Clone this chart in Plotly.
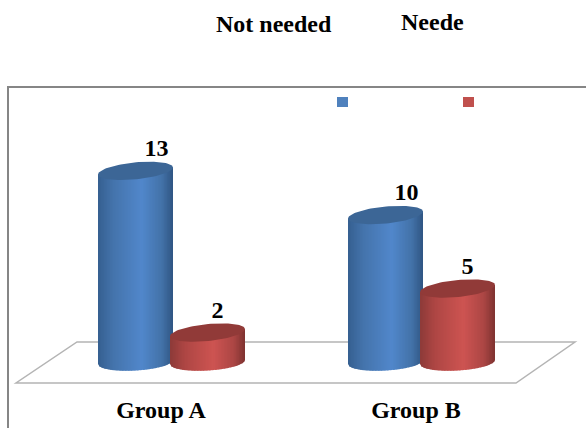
import numpy as np
import plotly.graph_objects as go

# Chart data
groups = ["Group A", "Group B"]
series_names = ["Not needed", "Neede"]
not_needed = [13, 10]
needed = [2, 5]

WIDTH, HEIGHT = 586, 428
PLOT_BOTTOM = 383            # pixel row of the x axis
BASE_ROW = 362               # pixel row of value 0
ROW_PER_UNIT = 14.7
GROUP_ZERO_COL = 171.5
COL_PER_GROUP = 250.0

SERIF = "Liberation Serif, Times New Roman, serif"

# Cylinder geometry, in axis units
half_w = 37.5 / COL_PER_GROUP
offset = 36.0 / COL_PER_GROUP
cap_b = 8.5 / ROW_PER_UNIT
cap_tilt = 3.5 / ROW_PER_UNIT

body_ramps = {
    "blue": [(0, "#355f90"), (0.2, "#4473ab"), (0.58, "#5187cb"), (0.85, "#4372a8"), (1, "#2f5582")],
    "red": [(0, "#8c3a38"), (0.2, "#ae4644"), (0.58, "#cd5451"), (0.85, "#ab4644"), (1, "#7e3230")],
}
cap_colors = {"blue": "#3c6696", "red": "#913a38"}


def ramp(stops, t):
    xs = [s[0] for s in stops]
    rgb = [[int(s[1][i:i + 2], 16) for s in stops] for i in (1, 3, 5)]
    return "rgb({:.0f},{:.0f},{:.0f})".format(*[np.interp(t, xs, c) for c in rgb])


def cylinder(cx, value, color):
    """Shaded strips for the side of a cylinder, then its tilted top cap."""
    traces = []
    n = 50
    edges = np.linspace(-1, 1, n + 1)
    for i in range(n):
        # Each strip runs slightly into the next so no seams show
        u = np.linspace(edges[i], min(edges[i + 1] + 0.02, 1), 4)
        low = -cap_b * np.sqrt(np.clip(1 - u ** 2, 0, 1)) + cap_tilt * u * 0.6
        top = value + cap_tilt * u
        xs = np.concatenate([cx + half_w * u, cx + half_w * u[::-1]])
        ys = np.concatenate([low, top[::-1]])
        traces.append(go.Scatter(
            x=xs, y=ys, mode="lines", fill="toself", line=dict(width=0),
            fillcolor=ramp(body_ramps[color], (i + 0.5) / n),
            hoverinfo="skip", showlegend=False))
    t = np.linspace(0, 2 * np.pi, 90)
    traces.append(go.Scatter(
        x=cx + half_w * np.cos(t),
        y=value + cap_b * np.sin(t) + cap_tilt * np.cos(t),
        mode="lines", fill="toself", line=dict(width=0),
        fillcolor=cap_colors[color], hoverinfo="skip", showlegend=False))
    return traces


fig = go.Figure()
positions = np.arange(len(groups), dtype=float)

# Each group draws its blue cylinder first so the red one sits in front
for pos, a, b in zip(positions, not_needed, needed):
    for tr in cylinder(pos - offset, a, "blue"):
        fig.add_trace(tr)
    for tr in cylinder(pos + offset, b, "red"):
        fig.add_trace(tr)

# Value labels sit above and to the right of each cylinder
label_dx = 21 / COL_PER_GROUP
label_dy = 21.0 / ROW_PER_UNIT
for vals, shift in ((not_needed, -offset), (needed, offset)):
    fig.add_trace(go.Scatter(
        x=positions + shift + (label_dx if shift < 0 else label_dx - 11 / COL_PER_GROUP),
        y=np.array(vals) + label_dy,
        mode="text", text=[str(v) for v in vals], textposition="middle center",
        textfont=dict(family=SERIF, size=24, color="#000000", weight="bold"),
        hoverinfo="skip", showlegend=False))


def px(col):
    return col / WIDTH


def py(row):
    return (PLOT_BOTTOM - row) / PLOT_BOTTOM


def path(points, close=False):
    d = " ".join(("M" if i == 0 else "L") + f" {px(c):.5f} {py(r):.5f}" for i, (c, r) in enumerate(points))
    return d + (" Z" if close else "")


shapes = [
    # Outer frame, open at the right and bottom
    dict(type="path", xref="paper", yref="paper", layer="below",
         path=path([(8, 428), (8, 87), (586, 87)]), line=dict(color="#868686", width=2)),
    # Floor of the 3D plot
    dict(type="path", xref="paper", yref="paper", layer="below",
         path=path([(16, 383), (516, 383), (575, 342), (77, 342)], close=True),
         line=dict(color="#b4b4b4", width=1.5), fillcolor="#ffffff"),
    # Legend swatches
    dict(type="rect", xref="paper", yref="paper", x0=px(337), x1=px(348), y0=py(107), y1=py(97),
         line=dict(width=0), fillcolor="#4f81bd"),
    dict(type="rect", xref="paper", yref="paper", x0=px(463), x1=px(474), y0=py(107), y1=py(97),
         line=dict(width=0), fillcolor="#c0504d"),
]

annotations = [
    dict(text=series_names[0], x=px(274), y=py(23.5), xref="paper", yref="paper", showarrow=False,
         xanchor="center", yanchor="middle",
         font=dict(family=SERIF, size=24, color="#000000", weight="bold")),
    dict(text=series_names[1], x=px(432), y=py(22), xref="paper", yref="paper", showarrow=False,
         xanchor="center", yanchor="middle",
         font=dict(family=SERIF, size=24, color="#000000", weight="bold")),
]

tick_cols = [161, 416]

fig.update_layout(
    width=WIDTH, height=HEIGHT,
    autosize=False,
    margin=dict(l=0, r=0, t=0, b=HEIGHT - PLOT_BOTTOM, autoexpand=False),
    paper_bgcolor="#ffffff", plot_bgcolor="rgba(0,0,0,0)",
    showlegend=False,
    shapes=shapes, annotations=annotations,
    xaxis=dict(
        range=[-GROUP_ZERO_COL / COL_PER_GROUP, (WIDTH - GROUP_ZERO_COL) / COL_PER_GROUP],
        tickmode="array",
        tickvals=[(c - GROUP_ZERO_COL) / COL_PER_GROUP for c in tick_cols],
        ticktext=groups,
        ticks="", ticklabelstandoff=10,
        tickfont=dict(family=SERIF, size=24, color="#000000", weight="bold"),
        showgrid=False, zeroline=False, showline=False, fixedrange=True),
    yaxis=dict(
        range=[(BASE_ROW - PLOT_BOTTOM) / ROW_PER_UNIT, BASE_ROW / ROW_PER_UNIT],
        visible=False, showgrid=False, zeroline=False, fixedrange=True),
)

fig.write_html("out.html", config={"displayModeBar": False})
